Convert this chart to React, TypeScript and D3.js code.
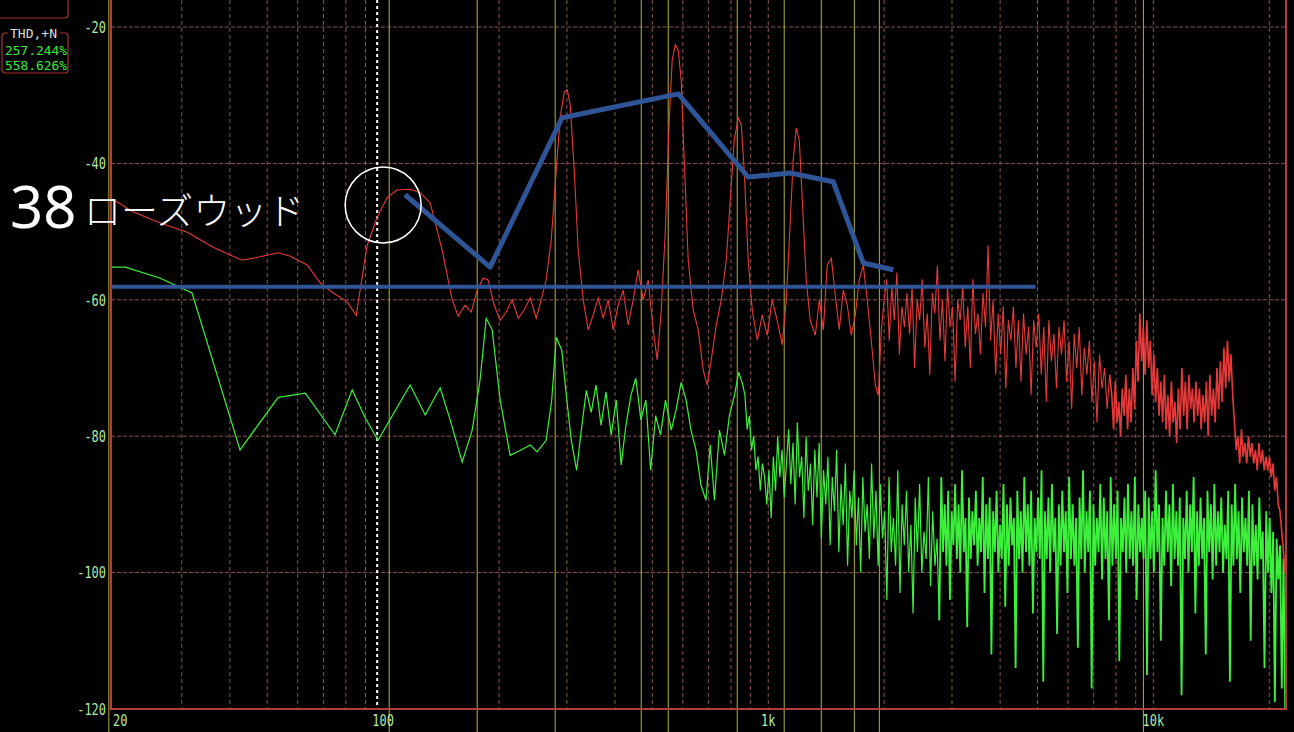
import React from 'react';
import * as d3 from 'd3';

// ---------- axes ----------
const yTickValues = [-20, -40, -60, -80, -100, -120];
const xTickValues = [20, 100, 1000, 10000];
const xTickLabels = ['20', '100', '1k', '10k'];
const gridFreqs = [30, 40, 50, 60, 70, 80, 90, 200, 300, 400, 500, 600, 700, 800, 900, 1000,
  2000, 3000, 4000, 5000, 6000, 7000, 8000, 9000, 10000, 20000];
const gridDb = [-20, -40, -60, -80, -100];
const markerFreqs = [19.4, 103.7, 175.5, 279.7, 467.9, 549.9, 830.7, 1100, 1373, 1673, 1943, 9420];
const cursorFreq = 96.5;

// ---------- readouts ----------
const thdLabel = 'THD,+N';
const thdValues = ['257.244%', '558.626%'];

// ---------- red spectrum ----------
const redLow: [number, number][] = [
  [19.65, -45.1], [22.4, -47.1], [26.3, -48.7], [31.0, -50.1], [36.2, -52.3], [43.0, -54.2], [47.9, -53.7],
  [53.4, -53.1], [57.4, -53.6], [63.5, -54.9], [68.6, -57.5], [74.2, -59.0], [80.7, -60.3], [85.1, -62.3],
  [90.9, -52.0], [96.5, -47.9], [102.4, -45.0], [108.7, -43.9], [117.5, -43.8], [124.8, -44.3], [132.5, -45.8],
  [142.3, -52.7], [151.1, -60.0], [156.6, -62.4], [163.3, -60.8], [169.3, -61.8], [175.5, -58.6], [181.9, -56.8],
  [187.4, -57.1], [194.3, -60.8], [201.3, -63.0], [208.7, -61.8], [216.3, -60.0], [224.3, -62.7], [232.4, -61.5],
  [240.9, -59.7], [249.7, -62.7], [257.3, -60.0], [265, -57.1], [273.2, -51.2], [281.5, -41.0], [288.2, -33.3],
  [295.3, -29.5], [300.7, -29.2], [306, -31.4], [313.5, -41.0], [321, -52.7], [330.7, -60.0], [340.8, -64.4],
  [351.1, -62.2], [361.8, -59.7], [372.7, -62.7], [384, -60.0], [395.8, -64.4], [407.7, -60.8], [420.1, -58.6],
  [432.8, -63.7], [446, -60.0], [459.5, -55.6], [473.4, -60.0], [487.8, -57.1], [502.6, -64.4], [514.8, -68.8],
  [527.3, -61.6], [540.5, -49.8], [553.3, -33.6], [563.2, -24.8], [573.8, -22.6], [583.7, -23.4], [594.3, -27.8],
  [605, -39.5], [619.7, -54.2], [638.5, -61.5], [657.9, -64.4], [677.9, -70.3], [694.3, -72.5], [711.1, -68.8],
  [732.8, -63.7], [755, -60.0], [778.1, -54.2], [796.8, -45.4], [815.9, -36.6], [835.7, -33.3], [850.8, -34.3],
  [866.2, -41.0], [887, -54.2], [908.8, -61.5], [936.3, -65.9], [964.7, -62.2], [994, -65.2], [1024, -60.0],
  [1055, -63.0], [1087, -66.6], [1114, -60.0], [1141, -48.3], [1161, -39.5], [1182, -34.8], [1204, -36.6],
  [1226, -45.4], [1255, -57.1], [1285, -63.0], [1325, -65.2], [1357, -60.0], [1390, -64.4], [1423, -54.9],
  [1458, -53.9], [1493, -59.3], [1529, -64.4], [1566, -58.6], [1604, -60.8], [1643, -65.2], [1683, -62.2],
  [1723, -57.1], [1765, -54.9], [1807, -60.0], [1851, -65.9], [1897, -72.5], [1931, -74.0], [1966, -64.4],
];
const redMidRange = [2000, 7700];
const redMidDb = [
  -60, -57, -66, -58, -63, -56, -68, -61, -64, -59,
  -65, -58, -70, -60, -63, -57, -67, -62, -71, -59,
  -62, -55, -66, -60, -69, -58, -64, -61, -72, -60,
  -63, -58, -67, -61, -70, -57, -65, -62, -68, -59,
  -64, -52, -66, -60, -71, -62, -68, -61, -73, -63,
  -66, -61, -70, -63, -72, -62, -68, -64, -74, -63,
  -67, -62, -71, -64, -75, -63, -69, -65, -73, -64,
  -68, -63, -72, -66, -76, -65, -70, -64, -74, -67,
  -71, -66, -75, -69, -78, -68, -73, -70, -76, -71,
];
const redDenseRange = [7800, 22000];
const redDenseDb = [
  -74, -79, -72, -78, -75, -80, -73, -77, -71, -79,
  -73, -78, -70, -76, -66, -72, -62, -69, -64, -71,
  -63, -70, -66, -74, -68, -75, -70, -77, -72, -78,
  -71, -79, -74, -80, -72, -78, -75, -81, -73, -79,
  -70, -77, -72, -79, -71, -76, -73, -78, -72, -77,
  -73, -79, -74, -78, -72, -80, -71, -77, -73, -78,
  -70, -76, -69, -75, -67, -73, -66, -72, -68, -74,
  -78, -82, -80, -84, -79, -83, -81, -84, -80, -83,
  -81, -84, -82, -85, -81, -84, -82, -85, -83, -85,
  -83, -86, -84, -88, -86, -90, -91, -94, -97, -100,
];

// ---------- green spectrum ----------
const greenLow: [number, number][] = [
  [19.65, -55.2], [21.4, -55.2], [26.3, -56.8], [31.9, -59.0], [42.5, -82.0], [53.4, -74.3], [62.8, -73.7],
  [75.0, -79.8], [83.1, -73.2], [89.8, -77.3], [97.0, -80.6], [117.5, -72.5], [128.6, -76.9], [140.6, -72.9],
  [149.3, -77.6], [160.4, -83.8], [170.3, -79.1], [178.5, -71.8], [185.2, -62.7], [191.9, -64.4], [201.3, -74.7],
  [213.7, -82.8], [226.9, -82.1], [240.9, -81.3], [251, -82.3], [265, -80.6], [274, -74.7], [281.5, -65.5],
  [291, -67.4], [299, -74.0], [308, -80.6], [318, -85.0], [327, -79.1], [337, -73.3], [347, -76.5], [357, -72.5],
  [368, -78.4], [379, -73.5], [391, -79.8], [403, -74.7], [415, -84.2], [427, -78.4], [440, -74.0], [453, -71.5],
  [467, -77.6], [481, -74.7], [495, -85.0], [510, -77.0], [525, -79.8], [541, -74.7], [560, -79.1], [576, -76.2],
  [594, -72.1], [612, -74.7], [630, -79.1], [649, -82.0], [669, -87.2], [689, -89.4], [707, -81.3], [725, -89.4],
  [747, -79.1], [770, -82.8], [793, -76.9], [817, -74.0], [838, -70.6], [859, -72.5],
];
const greenMidRange = [870, 2780];
const greenMidDb = [
  -74, -79, -77, -82, -80, -85, -83, -88, -84, -86,
  -90, -85, -92, -83, -88, -80, -86, -82, -89, -84,
  -79, -87, -81, -90, -78, -86, -83, -92, -80, -88,
  -84, -93, -82, -89, -81, -95, -85, -90, -83, -96,
  -86, -91, -82, -97, -87, -93, -84, -99, -88, -92,
  -85, -96, -89, -100, -86, -94, -90, -98, -84, -95,
  -88, -99, -87, -95, -91, -104, -86, -97, -92, -99,
  -85, -103, -90, -96, -88, -100, -93, -106, -89, -97,
  -87, -100, -94, -98, -86, -102, -91, -99, -95, -107,
];
const greenDenseRange = [2814, 22000];
const greenDenseDb = [
  -86, -97, -90, -99, -88, -104, -91, -96, -87, -98,
  -90, -100, -85, -97, -92, -108, -89, -98, -91, -96,
  -88, -99, -92, -97, -86, -103, -90, -98, -89, -112,
  -91, -97, -88, -100, -93, -98, -87, -105, -90, -99,
  -89, -96, -92, -114, -88, -98, -91, -100, -86, -97,
  -90, -99, -88, -106, -92, -97, -89, -98, -85, -116,
  -91, -98, -89, -100, -87, -97, -92, -109, -90, -99,
  -88, -97, -91, -103, -86, -98, -90, -99, -92, -111,
  -89, -98, -85, -100, -91, -97, -88, -117, -90, -99,
  -92, -97, -87, -101, -89, -98, -91, -107, -86, -99,
  -90, -98, -88, -113, -92, -97, -89, -100, -87, -98,
  -91, -99, -86, -104, -90, -97, -92, -98, -88, -115,
  -89, -98, -91, -100, -85, -97, -90, -110, -92, -99,
  -88, -97, -90, -102, -87, -98, -91, -99, -89, -118,
  -92, -98, -88, -100, -90, -97, -86, -106, -91, -99,
  -89, -98, -92, -112, -88, -97, -90, -101, -87, -99,
  -91, -97, -89, -100, -93, -98, -88, -116, -90, -99,
  -87, -98, -91, -103, -89, -97, -92, -99, -88, -110,
  -90, -99, -93, -101, -89, -98, -94, -114, -91, -100,
  -92, -103, -94, -119, -95, -101, -96, -117, -98, -120,
];

// ---------- annotation ----------
const trendFreq = [114, 189.6, 291.7, 583.8, 887, 1141, 1475, 1765, 2112];
const trendDb = [-44.6, -55.2, -33.3, -29.8, -42.0, -41.4, -42.7, -54.6, -55.6];
const refLineFreq = [19.65, 4940];
const refLineDb = -58.1;
const circleFreq = 100;
const circleDb = -46.1;
const noteNumber = '38';
const noteText = 'ローズウッド';

function spread(range: number[], vals: number[]): [number, number][] {
  const n = vals.length;
  const [a, b] = range;
  return vals.map((v, i) => [a * Math.pow(b / a, i / (n - 1)), v]);
}

export default function App() {
  const W = 1294, H = 732;
  const L = 111, R = 1286, B = 709;
  const x = d3.scaleLog().domain([19.65, 22100]).range([L, R]);
  const y = d3.scaleLinear().domain([-120, -20]).range([B, 27]);
  const line = d3.line<[number, number]>().x(d => x(d[0])).y(d => y(d[1]));

  const redA = [...redLow, ...spread(redMidRange, redMidDb)];
  const redB = [redA[redA.length - 1], ...spread(redDenseRange, redDenseDb)];
  const greenA = [...greenLow, ...spread(greenMidRange, greenMidDb)];
  const greenB = [greenA[greenA.length - 1], ...spread(greenDenseRange, greenDenseDb)];
  const trend: [number, number][] = trendFreq.map((f, i) => [f, trendDb[i]]);
  const refLine: [number, number][] = refLineFreq.map(f => [f, refLineDb]);

  const gridColor = '#8a5252';
  const labelColor = '#b4eaa8';
  const frameColor = '#b43c3c';
  const mono = '"DejaVu Sans Mono", "Liberation Mono", monospace';

  return (
    <svg width={W} height={H} style={{ position: 'absolute', left: 0, top: 0, background: '#000', display: 'block' }}>
      <defs>
        <clipPath id="plotClip">
          <rect x={L} y={0} width={R - L} height={B} />
        </clipPath>
      </defs>
      <rect x={0} y={0} width={W} height={H} fill="#000" />

      {/* grid */}
      {gridDb.map(v => (
        <line key={'h' + v} x1={L} x2={R} y1={y(v)} y2={y(v)} stroke={gridColor} strokeWidth={1} strokeDasharray="4,2" />
      ))}
      {gridFreqs.map(f => (
        <line key={'v' + f} x1={x(f)} x2={x(f)} y1={0} y2={B} stroke={gridColor} strokeWidth={1} strokeDasharray="4,3" />
      ))}

      {/* markers */}
      {markerFreqs.map(f => (
        <line key={'m' + f} x1={x(f)} x2={x(f)} y1={0} y2={H} stroke="#b4b23a" strokeWidth={1} />
      ))}
      <line x1={x(cursorFreq)} x2={x(cursorFreq)} y1={0} y2={B} stroke="#ffffff" strokeWidth={2} strokeDasharray="3,3" />

      {/* spectra */}
      <g clipPath="url(#plotClip)">
        <path d={line(greenA) || ''} fill="none" stroke="#3cf03c" strokeWidth={1.2} />
        <path d={line(greenB) || ''} fill="none" stroke="#3cf03c" strokeWidth={1.8} />
        <path d={line(redA) || ''} fill="none" stroke="#e63a3a" strokeWidth={1.1} />
        <path d={line(redB) || ''} fill="none" stroke="#e63a3a" strokeWidth={1.6} />
      </g>

      {/* frame */}
      <line x1={L} x2={L} y1={0} y2={B + 1} stroke={frameColor} strokeWidth={2} />
      <line x1={R} x2={R} y1={0} y2={B + 1} stroke={frameColor} strokeWidth={2} />
      <line x1={L} x2={R} y1={B} y2={B} stroke={frameColor} strokeWidth={2} />

      {/* y labels */}
      {yTickValues.map(v => {
        const s = String(v);
        return (
          <text key={'yl' + v} x={106} y={y(v)} dy="0.36em" textAnchor="end" fill={labelColor}
            fontFamily={mono} fontSize={16} textLength={s.length * 7.2} lengthAdjust="spacingAndGlyphs">{s}</text>
        );
      })}
      {/* x labels */}
      {xTickValues.map((f, i) => {
        const s = xTickLabels[i];
        const first = i === 0;
        return (
          <text key={'xl' + f} x={first ? L + 2 : x(f)} y={726} textAnchor={first ? 'start' : 'middle'} fill={labelColor}
            fontFamily={mono} fontSize={16} textLength={s.length * 7.2} lengthAdjust="spacingAndGlyphs">{s}</text>
        );
      })}

      {/* readout boxes */}
      <rect x={-4} y={-12} width={72} height={30} rx={3} fill="none" stroke="#a83030" strokeWidth={1.2} />
      <rect x={2} y={33} width={66} height={40} rx={3} fill="none" stroke="#a83030" strokeWidth={1.2} />
      <rect x={8} y={27} width={52} height={12} fill="#000" />
      <text x={10} y={38} fill="#dcdcdc" fontFamily={mono} fontSize={13} textLength={47} lengthAdjust="spacingAndGlyphs">{thdLabel}</text>
      {thdValues.map((s, i) => (
        <text key={s} x={5} y={55 + i * 15} fill="#3ce83c" fontFamily={mono} fontSize={12.8} textLength={62} lengthAdjust="spacingAndGlyphs">{s}</text>
      ))}

      {/* annotations */}
      <path d={line(refLine) || ''} fill="none" stroke="#2f5597" strokeWidth={4} />
      <path d={line(trend) || ''} fill="none" stroke="#2f5597" strokeWidth={5} strokeLinejoin="round" strokeLinecap="butt" />
      <circle cx={x(circleFreq)} cy={y(circleDb)} r={38} fill="none" stroke="#ffffff" strokeWidth={1.5} />
      <text x={10} y={228} fill="#ffffff" fontFamily='"Noto Sans", "Open Sans", sans-serif' fontSize={58}>{noteNumber}</text>
      <text x={84} y={225} fill="#ffffff" fontFamily='"Noto Sans CJK JP", sans-serif' fontWeight={300} fontSize={37}>{noteText}</text>
    </svg>
  );
}
